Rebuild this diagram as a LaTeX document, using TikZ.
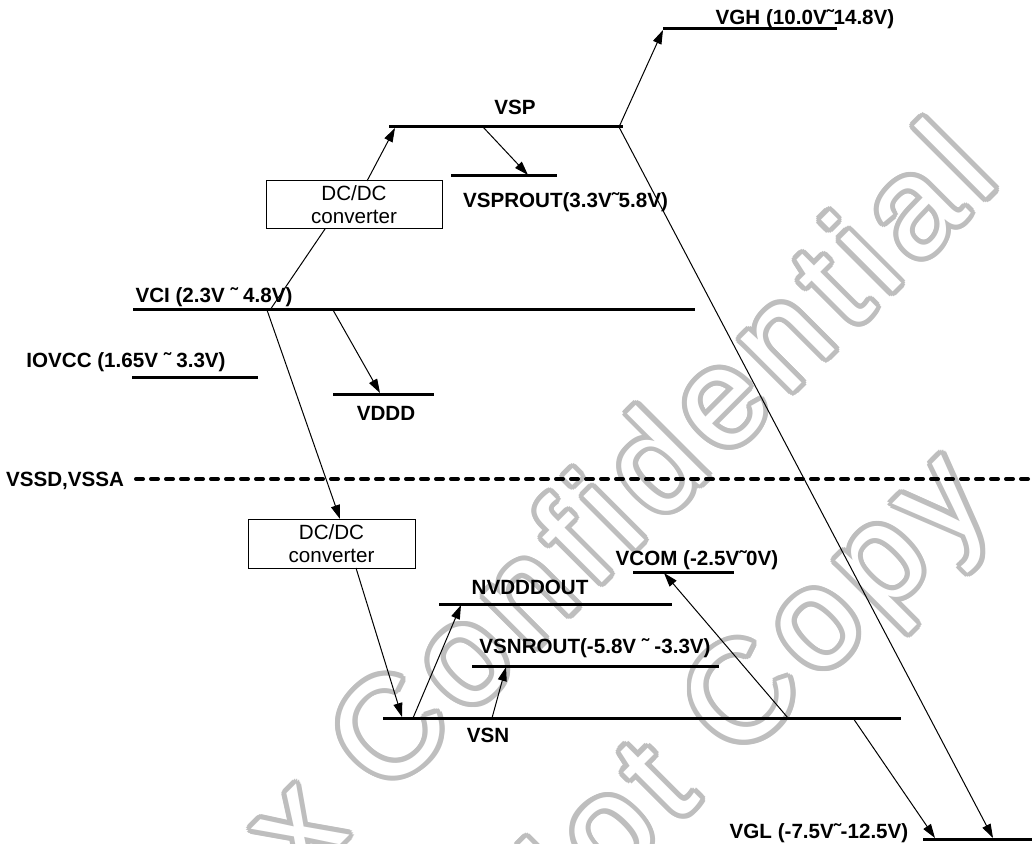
\documentclass[tikz,border=0pt]{standalone}
\usepackage{fontspec}
\setmainfont{Liberation Sans}
\newfontfamily\wmfont[LetterSpace=8.5]{Liberation Sans}
\usetikzlibrary{arrows.meta,calc}
\definecolor{wmgray}{RGB}{190,190,190}
\begin{document}
\begin{tikzpicture}[x=0.5pt,y=-0.5pt,
  rail/.style={line width=1.5pt},
  conn/.style={line width=0.5pt,-{Triangle[length=7pt,width=4.5pt]}},
  wire/.style={line width=0.5pt},
  lbl/.style={font=\bfseries\fontsize{10.3pt}{12pt}\selectfont,inner sep=0pt,text height=7.4pt,text depth=0pt},
  dcbox/.style={draw,line width=0.5pt,inner sep=0pt,align=center,font=\fontsize{10.3pt}{11.5pt}\selectfont},
  wm/.style={inner sep=0pt,rotate=45,font=\wmfont\fontsize{70pt}{80pt}\selectfont,text height=50pt,text depth=0pt}]
\useasboundingbox (0,0) rectangle (1032,844);
% ---------- watermark ----------
\begin{scope}
\clip (0,0) rectangle (1032,844);
\foreach \a in {0,24,...,336} {
  \node[wm,text=wmgray] (wma\a) at ($(484,630)+(\a:5)$) {Himax Confidential};
  \node[wm,text=wmgray] (wmb\a) at ($(642,788)+(\a:5)$) {Do Not Copy};
}
\node[wm,text=white] (wm1) at (484,630) {Himax Confidential};
\node[wm,text=white] (wm2) at (642,788) {Do Not Copy};
\end{scope}
% ---------- rails ----------
\coordinate (vgh-l) at (663,29);   \coordinate (vgh-r) at (837,29);
\coordinate (vsp-l) at (389,127);  \coordinate (vsp-r) at (623,127);
\coordinate (vspr-l) at (451,176); \coordinate (vspr-r) at (557,176);
\coordinate (vci-l) at (133,310);  \coordinate (vci-r) at (695,310);
\coordinate (io-l) at (132,377);   \coordinate (io-r) at (258,377);
\coordinate (vddd-l) at (333,394); \coordinate (vddd-r) at (434,394);
\coordinate (vss-l) at (136,479);  \coordinate (vss-r) at (1034,479);
\coordinate (vcom-l) at (633,572); \coordinate (vcom-r) at (734,572);
\coordinate (nvd-l) at (439,604);  \coordinate (nvd-r) at (672,604);
\coordinate (vsnr-l) at (472,666); \coordinate (vsnr-r) at (719,666);
\coordinate (vsn-l) at (383,718);  \coordinate (vsn-r) at (901,718);
\coordinate (vgl-l) at (923,839);  \coordinate (vgl-r) at (1032,839);
\foreach \r in {vgh,vsp,vspr,vci,io,vddd,vcom,nvd,vsnr,vsn,vgl}
  \draw[rail] (\r-l) -- (\r-r);
\draw[line width=2pt,dash pattern=on 3.5pt off 4pt,line cap=round] (vss-l) -- (vss-r);
% ---------- labels ----------
\node[lbl] (vghlbl) at (805,17.5) {VGH (10.0V˜14.8V)};
\node[lbl] (vsplbl) at (515,107) {VSP};
\node[lbl] (vsprlbl) at (565.5,200.5) {VSPROUT(3.3V˜5.8V)};
\node[lbl] (vcilbl) at (214,295) {VCI (2.3V ˜ 4.8V)};
\node[lbl] (iolbl) at (126,360) {IOVCC (1.65V ˜ 3.3V)};
\node[lbl] (vdddlbl) at (386,413.5) {VDDD};
\node[lbl] (vsslbl) at (65,479) {VSSD,VSSA};
\node[lbl] (vcomlbl) at (697,558.5) {VCOM (-2.5V˜0V)};
\node[lbl] (nvdlbl) at (530,587) {NVDDDOUT};
\node[lbl] (vsnrlbl) at (595,646) {VSNROUT(-5.8V ˜ -3.3V)};
\node[lbl] (vsnlbl) at (488,735.5) {VSN};
\node[lbl] (vgllbl) at (819,831) {VGL (-7.5V˜-12.5V)};
% ---------- DC/DC boxes ----------
\node[dcbox,minimum width=88pt,minimum height=24pt] (dc1) at (354,205) {DC/DC\\converter};
\node[dcbox,minimum width=83.5pt,minimum height=24.5pt] (dc2) at (331.5,543.5) {DC/DC\\converter};
% ---------- connector end points ----------
\coordinate (p-vci-a) at (270,310);
\coordinate (p-dc1-in) at (325,229);
\coordinate (p-dc1-out) at (367,181);
\coordinate (p-vsp-in) at (395,128);
\coordinate (p-vci-b) at (267,310);
\coordinate (p-dc2-in) at (340,519);
\coordinate (p-dc2-out) at (356,568);
\coordinate (p-vsn-in) at (402,717);
\coordinate (p-vci-c) at (333,310);
\coordinate (p-vddd-in) at (380,393);
\coordinate (p-vsp-a) at (483,127);
\coordinate (p-vspr-in) at (528,175);
\coordinate (p-vsp-b) at (619,127);
\coordinate (p-vgh-in) at (663,30);
\coordinate (p-vgl-b) at (993,838);
\coordinate (p-vsn-a) at (413,718);
\coordinate (p-nvd-in) at (461,605);
\coordinate (p-vsn-b) at (492,718);
\coordinate (p-vsnr-in) at (506,667);
\coordinate (p-vsn-c) at (788,718);
\coordinate (p-vcom-in) at (664,573);
\coordinate (p-vsn-d) at (853,718);
\coordinate (p-vgl-a) at (935,838);
% ---------- connectors ----------
\draw[wire] (p-vci-a) -- (p-dc1-in);
\draw[conn] (p-dc1-out) -- (p-vsp-in);
\draw[conn] (p-vci-b) -- (p-dc2-in);
\draw[conn] (p-dc2-out) -- (p-vsn-in);
\draw[conn] (p-vci-c) -- (p-vddd-in);
\draw[conn] (p-vsp-a) -- (p-vspr-in);
\draw[conn] (p-vsp-b) -- (p-vgh-in);
\draw[conn] (p-vsp-b) -- (p-vgl-b);
\draw[conn] (p-vsn-a) -- (p-nvd-in);
\draw[conn] (p-vsn-b) -- (p-vsnr-in);
\draw[conn] (p-vsn-c) -- (p-vcom-in);
\draw[conn] (p-vsn-d) -- (p-vgl-a);
\end{tikzpicture}
\end{document}
